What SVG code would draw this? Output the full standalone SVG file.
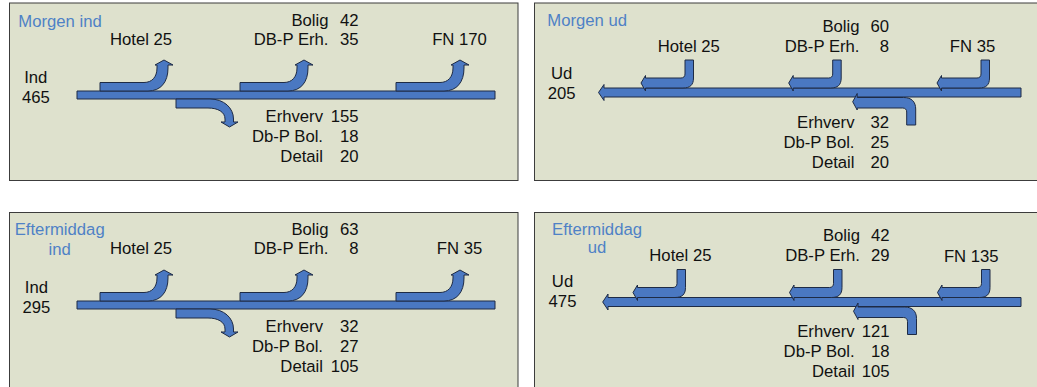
<svg xmlns="http://www.w3.org/2000/svg" xmlns:xlink="http://www.w3.org/1999/xlink" width="1037" height="387" viewBox="0 0 1037 387">
<style>
.panel{fill:#dee1cd;stroke:#3c3c3c;stroke-width:1}
.t{font-family:"Liberation Sans",Arial,sans-serif;font-size:16.7px;fill:#111}
.ttl{fill:#4f81c6}
.e{text-anchor:end}
.m{text-anchor:middle}
.arr{fill:#4a78c2;stroke:#1e2b45;stroke-width:1;stroke-linejoin:round}
</style>
<defs>
<path id="up" class="arr" d="M 0 -8.5 L 44 -8.5 C 52 -8.5 57 -14 57 -23 L 57 -26 L 55 -26 L 64 -31 L 73 -26 L 68 -26 L 68 -23 C 68 -9 61 0 48 0 L 0 0 Z"/>
<path id="down" class="arr" d="M 0 0 L 34 0 C 48 0 57.5 9 57.5 20 L 57.5 23 L 62 23 L 53.5 28 L 45 23 L 49 23 L 49 20 C 49 13 42 9 32 9 L 0 9 Z"/>
<path id="left" class="arr" d="M 0 -28 L 8.5 -28 L 8.5 -10 C 8.5 -3 5 0 -2 0 L -39.5 0 L -39.5 3 L -44 -5 L -39.5 -12.5 L -39.5 -10 L -4 -10 C -1.5 -10 0 -11.5 0 -14 Z"/>
<path id="low" class="arr" d="M 9 28 L 0 28 L 0 15 C 0 12.5 -1.5 11 -4 11 L -49.5 11 L -49.5 13 L -54 4.75 L -49.5 -3.5 L -49.5 0.5 L -3 0.5 C 5 0.5 9 5 9 12 Z"/>
</defs>

<g id="panel-morgen-ind">
<rect class="panel" x="9.5" y="3" width="508.5" height="177.5"/>
<text class="t ttl" x="18.3" y="26.5">Morgen ind</text>
<text class="t" x="110" y="45">Hotel 25</text>
<text class="t m" x="35.8" y="83">Ind</text>
<text class="t m" x="35.8" y="103">465</text>
<text class="t e" x="328.5" y="25.5">Bolig</text>
<text class="t e" x="358.5" y="25.5">42</text>
<text class="t e" x="328.5" y="44.5">DB-P Erh.</text>
<text class="t e" x="358.5" y="44.5">35</text>
<text class="t m" x="459.5" y="44.5">FN 170</text>
<text class="t e" x="323" y="121.7">Erhverv</text>
<text class="t e" x="358.5" y="121.7">155</text>
<text class="t e" x="323" y="141.7">Db-P Bol.</text>
<text class="t e" x="358.5" y="141.7">18</text>
<text class="t e" x="323" y="161.7">Detail</text>
<text class="t e" x="358.5" y="161.7">20</text>
</g>

<g id="panel-morgen-ud">
<rect class="panel" x="534.5" y="3" width="510" height="177.5"/>
<text class="t ttl" x="547.3" y="26">Morgen ud</text>
<text class="t" x="657.7" y="52.3">Hotel 25</text>
<text class="t m" x="561.7" y="79">Ud</text>
<text class="t m" x="561.7" y="99">205</text>
<text class="t e" x="859.5" y="31.7">Bolig</text>
<text class="t e" x="889" y="31.7">60</text>
<text class="t e" x="859.5" y="51.7">DB-P Erh.</text>
<text class="t e" x="889" y="51.7">8</text>
<text class="t m" x="972.5" y="52">FN 35</text>
<text class="t e" x="854.5" y="128.3">Erhverv</text>
<text class="t e" x="889" y="128.3">32</text>
<text class="t e" x="854.5" y="148.3">Db-P Bol.</text>
<text class="t e" x="889" y="148.3">25</text>
<text class="t e" x="854.5" y="168.3">Detail</text>
<text class="t e" x="889" y="168.3">20</text>
</g>

<g id="panel-eftermiddag-ind">
<rect class="panel" x="9.5" y="212.5" width="508.5" height="200"/>
<text class="t ttl m" x="59.7" y="235">Eftermiddag</text>
<text class="t ttl m" x="59.7" y="255">ind</text>
<text class="t" x="110" y="254">Hotel 25</text>
<text class="t m" x="36.4" y="292.7">Ind</text>
<text class="t m" x="36.4" y="312.7">295</text>
<text class="t e" x="328.5" y="235">Bolig</text>
<text class="t e" x="358.5" y="235">63</text>
<text class="t e" x="328.5" y="254">DB-P Erh.</text>
<text class="t e" x="358.5" y="254">8</text>
<text class="t m" x="459.5" y="254">FN 35</text>
<text class="t e" x="323" y="331.7">Erhverv</text>
<text class="t e" x="358.5" y="331.7">32</text>
<text class="t e" x="323" y="351.7">Db-P Bol.</text>
<text class="t e" x="358.5" y="351.7">27</text>
<text class="t e" x="323" y="371.5">Detail</text>
<text class="t e" x="358.5" y="371.5">105</text>
</g>

<g id="panel-eftermiddag-ud">
<rect class="panel" x="534.5" y="212.5" width="510" height="200"/>
<text class="t ttl m" x="597" y="235">Eftermiddag</text>
<text class="t ttl m" x="597" y="253.3">ud</text>
<text class="t" x="649.3" y="261">Hotel 25</text>
<text class="t m" x="562.5" y="287.3">Ud</text>
<text class="t m" x="562.5" y="307.3">475</text>
<text class="t e" x="860" y="240.7">Bolig</text>
<text class="t e" x="889.5" y="240.7">42</text>
<text class="t e" x="860" y="260.7">DB-P Erh.</text>
<text class="t e" x="889.5" y="260.7">29</text>
<text class="t m" x="971.3" y="261.7">FN 135</text>
<text class="t e" x="854.7" y="336.7">Erhverv</text>
<text class="t e" x="889.5" y="336.7">121</text>
<text class="t e" x="854.7" y="356.7">Db-P Bol.</text>
<text class="t e" x="889.5" y="356.7">18</text>
<text class="t e" x="854.7" y="376.7">Detail</text>
<text class="t e" x="889.5" y="376.7">105</text>
</g>

<g id="connectors">
<!-- Morgen ind -->
<rect class="arr" x="77" y="91" width="418" height="8"/>
<use xlink:href="#up" transform="translate(100,91)"/>
<use xlink:href="#up" transform="translate(240,91)"/>
<use xlink:href="#up" transform="translate(396,91)"/>
<use xlink:href="#down" transform="translate(176,99)"/>
<!-- Morgen ud -->
<path class="arr" d="M 1021 88 L 604 88 L 604 84.5 L 598.5 92.5 L 604 100.5 L 604 97 L 1021 97 Z"/>
<use xlink:href="#left" transform="translate(685,88)"/>
<use xlink:href="#left" transform="translate(832.7,88)"/>
<use xlink:href="#left" transform="translate(981,88)"/>
<use xlink:href="#low" transform="translate(906.7,97)"/>
<!-- Eftermiddag ind -->
<rect class="arr" x="77" y="301" width="418" height="8"/>
<use xlink:href="#up" transform="translate(100,301)"/>
<use xlink:href="#up" transform="translate(240,301)"/>
<use xlink:href="#up" transform="translate(396,301)"/>
<use xlink:href="#down" transform="translate(176,309)"/>
<!-- Eftermiddag ud -->
<path class="arr" d="M 1021 297.5 L 608 297.5 L 608 294 L 602.7 302 L 608 310 L 608 306.5 L 1021 306.5 Z"/>
<use xlink:href="#left" transform="translate(677,297.5)"/>
<use xlink:href="#left" transform="translate(833.5,297.5)"/>
<use xlink:href="#left" transform="translate(981.5,297.5)"/>
<use xlink:href="#low" transform="translate(907.5,306.5)"/>
</g>
</svg>
